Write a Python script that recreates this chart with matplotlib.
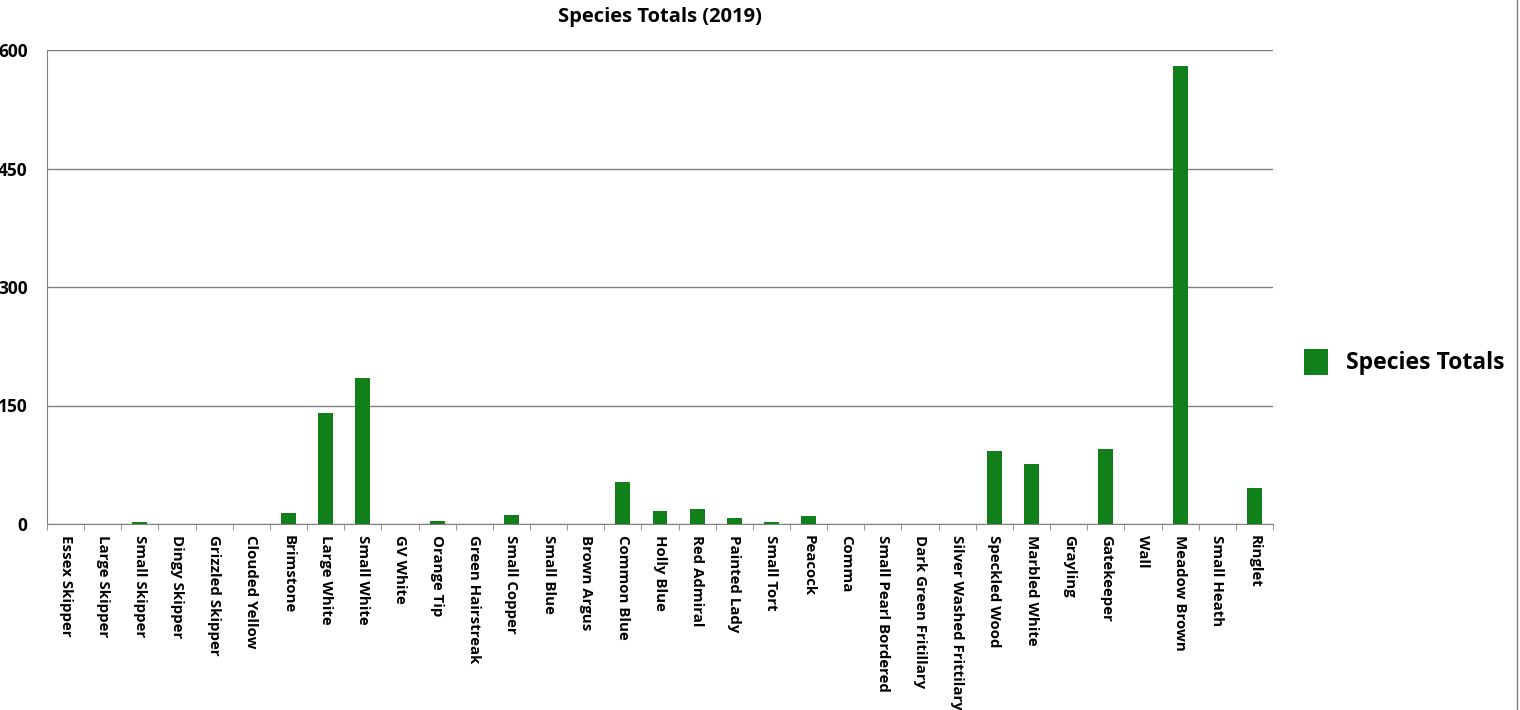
import matplotlib.pyplot as plt
import numpy as np

plt.rcParams['font.family'] = ['Open Sans', 'DejaVu Sans']
plt.rcParams['font.weight'] = 'bold'

species = ["Essex Skipper", "Large Skipper", "Small Skipper", "Dingy Skipper",
           "Grizzled Skipper", "Clouded Yellow", "Brimstone", "Large White",
           "Small White", "GV White", "Orange Tip", "Green Hairstreak",
           "Small Copper", "Small Blue", "Brown Argus", "Common Blue",
           "Holly Blue", "Red Admiral", "Painted Lady", "Small Tort",
           "Peacock", "Comma", "Small Pearl Bordered", "Dark Green Fritillary",
           "Silver Washed Frittilary", "Speckled Wood", "Marbled White",
           "Grayling", "Gatekeeper", "Wall", "Meadow Brown", "Small Heath",
           "Ringlet"]
totals = [0, 0, 3, 0, 0, 0, 14, 140, 185, 0, 4, 0, 11, 0, 0, 53, 17, 19,
          8, 3, 10, 0, 0, 0, 0, 93, 76, 0, 95, 0, 580, 0, 46]
y_ticks = [0, 150, 300, 450, 600]

fig = plt.figure(figsize=(15.2, 7.1), dpi=100)
ax = fig.add_axes([47 / 1520, 1 - 524 / 710, (1273 - 47) / 1520, (524 - 50) / 710])

x = np.arange(len(species))
ax.bar(x, totals, width=0.4, color="#11801a", label="Species Totals", zorder=3)

ax.set_xlim(-0.5, len(species) - 0.5)
ax.set_ylim(0, 600)
ax.set_yticks(y_ticks)
ax.set_yticklabels([str(v) for v in y_ticks], fontsize=12.5, fontweight='bold')
ax.yaxis.grid(True, color="#808080", linewidth=1, zorder=0)
ax.tick_params(axis='y', length=0, pad=14)

ax.set_xticks(x)
ax.set_xticklabels(species, rotation=270, fontsize=10.8, fontweight='bold',
                   va='top', ha='center')
ax.set_xticks(np.arange(len(species) + 1) - 0.5, minor=True)
ax.tick_params(axis='x', which='major', length=0, pad=8)
ax.tick_params(axis='x', which='minor', length=4, color="#808080")

for side in ['top', 'right']:
    ax.spines[side].set_visible(False)
for side in ['left', 'bottom']:
    ax.spines[side].set_color("#808080")

ax.set_title("Species Totals (2019)", fontsize=14.5, fontweight='bold', pad=20)

fig.legend(loc='center left', bbox_to_anchor=(1283 / 1520, 1 - 362 / 710),
           frameon=False, handlelength=1.05, handleheight=1.35,
           prop={'weight': 'bold', 'size': 16.6})

fig.add_artist(plt.Line2D([1517 / 1520, 1517 / 1520], [0, 1], color="#808080",
                          linewidth=1))

fig.savefig("out.png", dpi=100)
